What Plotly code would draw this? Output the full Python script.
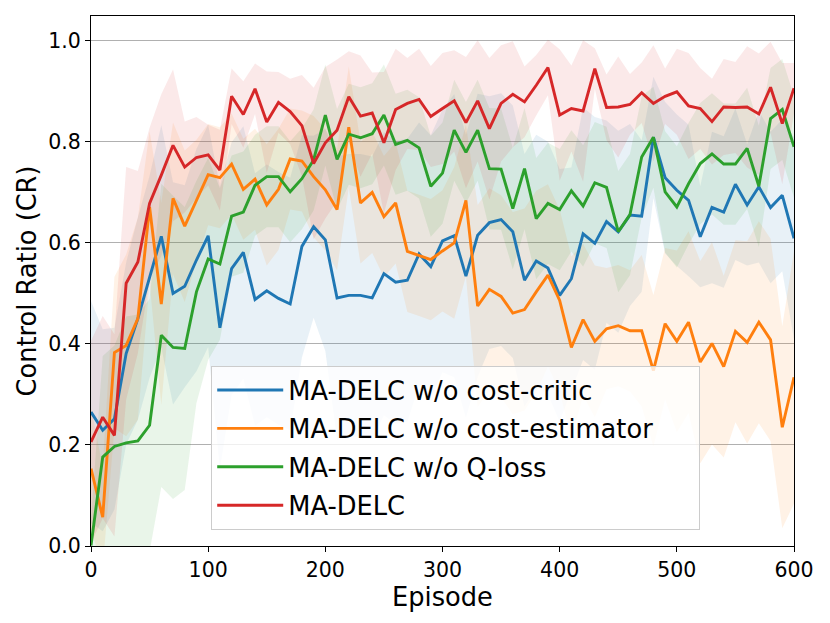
import plotly.graph_objects as go

episodes = list(range(0, 601, 10))

cr_wo_cost_critic = [0.265, 0.229, 0.252, 0.381, 0.450, 0.533, 0.613, 0.500, 0.514, 0.566, 0.614,
                     0.432, 0.549, 0.581, 0.488, 0.505, 0.490, 0.479, 0.593, 0.632, 0.606,
                     0.491, 0.496, 0.496, 0.491, 0.539, 0.522, 0.526, 0.578, 0.553, 0.604,
                     0.614, 0.534, 0.615, 0.640, 0.646, 0.622, 0.526, 0.564, 0.550, 0.496,
                     0.529, 0.618, 0.599, 0.642, 0.622, 0.655, 0.653, 0.809, 0.729, 0.704,
                     0.684, 0.612, 0.670, 0.661, 0.716, 0.675, 0.711, 0.670, 0.694, 0.609]

cr_wo_cost_estimator = [0.153, 0.057, 0.383, 0.397, 0.450, 0.671, 0.479, 0.688, 0.633, 0.684, 0.735,
                        0.729, 0.756, 0.706, 0.726, 0.675, 0.706, 0.766, 0.762, 0.731, 0.705,
                        0.666, 0.829, 0.679, 0.700, 0.652, 0.679, 0.583, 0.575, 0.567, 0.584,
                        0.600, 0.684, 0.475, 0.508, 0.494, 0.461, 0.468, 0.503, 0.536, 0.486,
                        0.393, 0.448, 0.405, 0.430, 0.436, 0.426, 0.426, 0.347, 0.440, 0.405,
                        0.443, 0.364, 0.401, 0.355, 0.425, 0.403, 0.443, 0.408, 0.235, 0.334]

cr_wo_q_loss = [0.001, 0.176, 0.197, 0.204, 0.208, 0.239, 0.417, 0.393, 0.391, 0.503, 0.568,
                0.558, 0.653, 0.661, 0.714, 0.731, 0.731, 0.701, 0.727, 0.764, 0.853,
                0.765, 0.815, 0.808, 0.816, 0.853, 0.795, 0.803, 0.788, 0.712, 0.738,
                0.823, 0.779, 0.823, 0.747, 0.746, 0.668, 0.747, 0.648, 0.678, 0.666,
                0.703, 0.673, 0.719, 0.710, 0.622, 0.656, 0.770, 0.809, 0.701, 0.671,
                0.717, 0.757, 0.776, 0.756, 0.756, 0.787, 0.712, 0.846, 0.864, 0.790]

cr_ma_delc = [0.206, 0.255, 0.219, 0.520, 0.562, 0.678, 0.734, 0.793, 0.750, 0.769, 0.774,
              0.744, 0.890, 0.854, 0.905, 0.839, 0.878, 0.860, 0.832, 0.757, 0.798,
              0.823, 0.889, 0.851, 0.857, 0.798, 0.864, 0.876, 0.884, 0.850, 0.866,
              0.881, 0.838, 0.881, 0.826, 0.876, 0.894, 0.879, 0.912, 0.947, 0.853,
              0.866, 0.861, 0.945, 0.868, 0.869, 0.874, 0.897, 0.876, 0.890, 0.899,
              0.871, 0.866, 0.840, 0.869, 0.868, 0.869, 0.855, 0.908, 0.836, 0.906]

std_wo_cost_critic = [0.22, 0.20, 0.18, 0.18, 0.20, 0.20, 0.22, 0.22, 0.20, 0.22, 0.22,
                      0.28, 0.25, 0.25, 0.25, 0.25, 0.25, 0.25, 0.22, 0.18, 0.22,
                      0.28, 0.28, 0.28, 0.28, 0.28, 0.28, 0.28, 0.26, 0.26, 0.26,
                      0.28, 0.28, 0.28, 0.25, 0.25, 0.25, 0.25, 0.25, 0.25, 0.25,
                      0.22, 0.25, 0.25, 0.20, 0.20, 0.18, 0.15, 0.12, 0.15, 0.15,
                      0.15, 0.10, 0.15, 0.15, 0.15, 0.12, 0.15, 0.15, 0.15, 0.20]

std_wo_cost_estimator = [0.12, 0.10, 0.15, 0.18, 0.20, 0.15, 0.20, 0.15, 0.15, 0.12, 0.10,
                         0.10, 0.10, 0.10, 0.10, 0.12, 0.12, 0.10, 0.10, 0.12, 0.12,
                         0.12, 0.12, 0.12, 0.12, 0.12, 0.12, 0.12, 0.12, 0.12, 0.12,
                         0.15, 0.15, 0.20, 0.20, 0.20, 0.20, 0.20, 0.20, 0.18, 0.18,
                         0.18, 0.15, 0.15, 0.12, 0.12, 0.12, 0.15, 0.15, 0.15, 0.18,
                         0.18, 0.20, 0.20, 0.18, 0.18, 0.20, 0.20, 0.20, 0.20, 0.25]

std_wo_q_loss = [0.05, 0.20, 0.20, 0.25, 0.25, 0.25, 0.30, 0.30, 0.28, 0.22, 0.20,
                 0.15, 0.12, 0.12, 0.10, 0.10, 0.10, 0.10, 0.10, 0.10, 0.10,
                 0.10, 0.10, 0.10, 0.10, 0.10, 0.10, 0.10, 0.10, 0.10, 0.10,
                 0.10, 0.10, 0.10, 0.12, 0.12, 0.12, 0.12, 0.12, 0.12, 0.12,
                 0.12, 0.12, 0.12, 0.12, 0.12, 0.12, 0.12, 0.10, 0.12, 0.12,
                 0.12, 0.12, 0.12, 0.12, 0.12, 0.12, 0.12, 0.10, 0.10, 0.10]

std_ma_delc = [0.20, 0.20, 0.20, 0.23, 0.18, 0.15, 0.16, 0.15, 0.09, 0.08, 0.06,
               0.08, 0.055, 0.066, 0.05, 0.10, 0.06, 0.065, 0.10, 0.15, 0.15,
               0.14, 0.09, 0.12, 0.08, 0.14, 0.12, 0.09, 0.10, 0.10, 0.11,
               0.10, 0.13, 0.12, 0.14, 0.115, 0.105, 0.07, 0.06, 0.055, 0.13,
               0.085, 0.14, 0.04, 0.065, 0.10, 0.06, 0.06, 0.115, 0.055, 0.085,
               0.105, 0.08, 0.085, 0.095, 0.09, 0.12, 0.12, 0.09, 0.12, 0.05]

labels = ["MA-DELC w/o cost-critic", "MA-DELC w/o cost-estimator", "MA-DELC w/o Q-loss", "MA-DELC"]
means = [cr_wo_cost_critic, cr_wo_cost_estimator, cr_wo_q_loss, cr_ma_delc]
stds = [std_wo_cost_critic, std_wo_cost_estimator, std_wo_q_loss, std_ma_delc]
colors = ["#1f77b4", "#ff7f0e", "#2ca02c", "#d62728"]
fills = ["rgba(31,119,180,0.1)", "rgba(255,127,14,0.1)", "rgba(44,160,44,0.1)", "rgba(214,39,40,0.1)"]

y_ticks = [0.0, 0.2, 0.4, 0.6, 0.8, 1.0]
y_ticktext = ["0.0", "0.2", "0.4", "0.6", "0.8", "1.0"]
x_ticks = [0, 100, 200, 300, 400, 500, 600]

fig = go.Figure()

for m, s, fc in zip(means, stds, fills):
    upper = [a + b for a, b in zip(m, s)]
    lower = [a - b for a, b in zip(m, s)]
    fig.add_trace(go.Scatter(
        x=episodes + episodes[::-1],
        y=upper + lower[::-1],
        fill="toself", fillcolor=fc, mode="none",
        line=dict(width=0), showlegend=False, hoverinfo="skip"))

pad = "\u00a0" * 5
for i, (m, c, lab) in enumerate(zip(means, colors, labels)):
    name = lab + pad if i == 1 else lab
    fig.add_trace(go.Scatter(x=episodes, y=m, mode="lines", name=name,
                             legendgroup="g%d" % i,
                             line=dict(color=c, width=2.9)))

# page body has an 8px default margin; figure sized so the plot area lands at 91..794 x 16..546
fig.update_layout(
    width=822, height=615,
    margin=dict(l=83, r=36, t=8, b=77),
    paper_bgcolor="white", plot_bgcolor="white",
    font=dict(family="DejaVu Sans", size=20.5, color="black"),
    showlegend=True,
    legend=dict(x=0.171, y=0.34, xanchor="left", yanchor="top",
                font=dict(size=25.7), bgcolor="rgba(255,255,255,0.8)",
                bordercolor="#cccccc", borderwidth=1, itemwidth=66,
                tracegroupgap=2, traceorder="grouped"),
)
fig.update_xaxes(range=[0, 600], tickvals=x_ticks, ticks="outside", ticklen=5,
                 tickcolor="black", tickwidth=1.2, showline=True, linecolor="black",
                 linewidth=1.3, mirror=True, showgrid=False, zeroline=False,
                 automargin=False, tickfont=dict(size=20.5),
                 title=dict(text="Episode", font=dict(size=25.7), standoff=2))
fig.update_yaxes(range=[0, 1.049], tickvals=y_ticks, ticktext=y_ticktext, ticks="outside",
                 ticklen=5, tickcolor="black", tickwidth=1.2, showline=True,
                 linecolor="black", linewidth=1.3, mirror=True, showgrid=True,
                 gridcolor="#b0b0b0", gridwidth=1, zeroline=False,
                 automargin=False, tickfont=dict(size=20.5),
                 title=dict(text="Control Ratio (CR)", font=dict(size=25.7), standoff=4))

fig.write_html("out.html")
